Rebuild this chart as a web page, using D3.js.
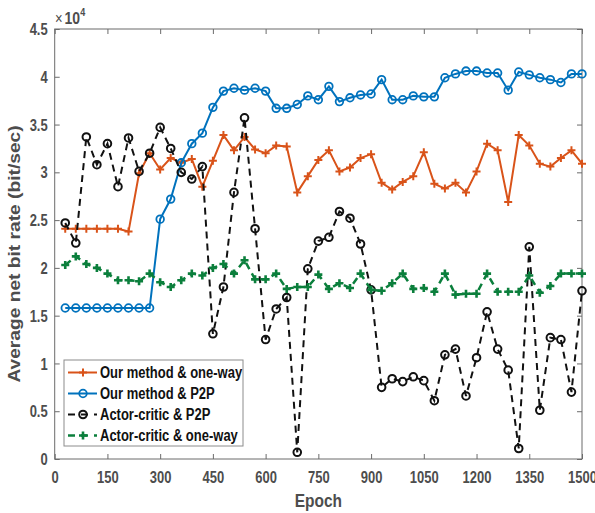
<!DOCTYPE html>
<html>
<head>
<meta charset="utf-8">
<script src="https://cdn.jsdelivr.net/npm/d3@7.9.0/dist/d3.min.js"></script>
<style>
  body { margin: 0; background: #fff; }
  svg { display: block; font-family: "Liberation Sans", Arial, sans-serif; }
</style>
</head>
<body>
<svg id="chart"></svg>
<script>
// epochs: one sample every 30 epochs
const epochs = d3.range(30, 1501, 30);

// values in units of 1e4 bit/sec
const ourOneWay = [2.41, 2.41, 2.41, 2.41, 2.41, 2.41, 2.38, 2.99, 3.20, 3.03,
  3.15, 3.10, 3.14, 2.85, 3.12, 3.39, 3.23, 3.37, 3.24, 3.20,
  3.28, 3.27, 2.79, 2.96, 3.13, 3.23, 3.01, 3.05, 3.15, 3.19,
  2.89, 2.82, 2.90, 2.96, 3.21, 2.88, 2.83, 2.89, 2.79, 3.01,
  3.30, 3.23, 2.69, 3.39, 3.28, 3.09, 3.06, 3.15, 3.23, 3.09];

const ourP2P = [1.58, 1.58, 1.58, 1.58, 1.58, 1.58, 1.58, 1.58, 1.58, 2.51,
  2.72, 3.10, 3.30, 3.41, 3.68, 3.85, 3.88, 3.86, 3.88, 3.85,
  3.67, 3.67, 3.71, 3.80, 3.76, 3.90, 3.74, 3.78, 3.81, 3.82,
  3.97, 3.76, 3.76, 3.80, 3.79, 3.79, 3.99, 4.03, 4.06, 4.06,
  4.04, 4.04, 3.86, 4.05, 4.02, 3.99, 3.97, 3.94, 4.03, 4.03];

const acP2P = [2.47, 2.26, 3.37, 3.08, 3.30, 2.85, 3.36, 3.01, 3.20, 3.47,
  3.25, 3.00, 2.93, 3.06, 1.31, 1.80, 2.79, 3.57, 2.41, 1.25,
  1.57, 1.69, 0.07, 1.99, 2.28, 2.32, 2.59, 2.52, 2.25, 1.77,
  0.75, 0.84, 0.81, 0.86, 0.82, 0.61, 1.09, 1.15, 0.66, 1.06,
  1.54, 1.15, 0.93, 0.11, 2.22, 0.51, 1.27, 1.25, 0.70, 1.76];

const acOneWay = [2.03, 2.12, 2.04, 2.00, 1.94, 1.87, 1.87, 1.86, 1.94, 1.85,
  1.80, 1.87, 1.94, 1.92, 2.00, 2.04, 1.94, 2.08, 1.88, 1.88,
  1.94, 1.78, 1.80, 1.80, 1.93, 1.78, 1.84, 1.79, 1.94, 1.77,
  1.76, 1.84, 1.94, 1.78, 1.79, 1.75, 1.94, 1.72, 1.73, 1.73,
  1.94, 1.75, 1.75, 1.75, 1.92, 1.74, 1.81, 1.94, 1.94, 1.94];

const seriesNames = ['Our method & one-way', 'Our method & P2P', 'Actor-critic & P2P', 'Actor-critic & one-way'];
const xTicks = d3.range(0, 1501, 150);
const yTicks = d3.range(0, 4.51, 0.5);

const width = 595, height = 513;
const margin = { top: 29, right: 13, bottom: 54, left: 54.7 };
const SY = 1.2; // the original figure is stretched vertically

const svg = d3.select('#chart').attr('width', width).attr('height', height);

const x = d3.scaleLinear().domain([0, 1500]).range([margin.left, width - margin.right]);
const y = d3.scaleLinear().domain([0, 4.5]).range([height - margin.bottom, margin.top]);

const axisColor = '#6b6b6b';
const labelColor = '#4d4d4d';

// frame
svg.append('rect')
  .attr('x', x(0)).attr('y', y(4.5))
  .attr('width', x(1500) - x(0)).attr('height', y(0) - y(4.5))
  .attr('fill', '#fff').attr('stroke', axisColor).attr('stroke-width', 1);

function styleAxis(g) {
  g.select('.domain').remove();
  g.selectAll('.tick line').attr('stroke', axisColor);
  g.selectAll('.tick text')
    .attr('fill', labelColor)
    .attr('font-size', 13)
    .attr('font-weight', 'bold');
}

// bottom axis
svg.append('g')
  .attr('transform', `translate(0,${y(0)})`)
  .call(d3.axisBottom(x).tickValues(xTicks).tickSizeInner(-5).tickSizeOuter(0).tickPadding(10.8)
    .tickFormat(d3.format('d')))
  .call(styleAxis)
  .call(g => g.selectAll('.tick text').attr('transform', `scale(1,${SY})`));

// left axis
svg.append('g')
  .attr('transform', `translate(${x(0)},0)`)
  .call(d3.axisLeft(y).tickValues(yTicks).tickSizeInner(-5).tickSizeOuter(0).tickPadding(7)
    .tickFormat(d => d3.format('~g')(+d.toFixed(1))))
  .call(styleAxis)
  .call(g => g.selectAll('.tick text').attr('dy', '0.36em').attr('transform', `scale(1,${SY})`));

// top and right ticks (no labels)
svg.append('g')
  .attr('transform', `translate(0,${y(4.5)})`)
  .call(d3.axisTop(x).tickValues(xTicks).tickSizeInner(-5).tickSizeOuter(0).tickFormat(''))
  .call(styleAxis);
svg.append('g')
  .attr('transform', `translate(${x(1500)},0)`)
  .call(d3.axisRight(y).tickValues(yTicks).tickSizeInner(-5).tickSizeOuter(0).tickFormat(''))
  .call(styleAxis);

// x10^4 exponent label
const expo = svg.append('text')
  .attr('transform', `translate(55,24) scale(1,${SY})`)
  .attr('fill', labelColor);
expo.append('tspan').attr('font-size', 13).attr('font-weight', 'normal').text('\u00d7');
expo.append('tspan').attr('font-size', 14).attr('font-weight', 'bold').attr('dx', 2).text('10');
expo.append('tspan').attr('font-size', 9).attr('font-weight', 'bold').attr('dy', -6.5).text('4');

// axis titles
svg.append('text')
  .attr('transform', `translate(${(x(0) + x(1500)) / 2},506.5) scale(1,${SY})`)
  .attr('text-anchor', 'middle')
  .attr('fill', labelColor)
  .attr('font-size', 15.5).attr('font-weight', 'bold')
  .text('Epoch');

svg.append('text')
  .attr('transform', `translate(20,254) rotate(-90) scale(${SY},1)`)
  .attr('text-anchor', 'middle')
  .attr('fill', labelColor)
  .attr('font-size', 16).attr('font-weight', 'bold')
  .text('Average net bit rate (bit/sec)');

// series
const plus = 'M-4,0H4M0,-4V4';
const styles = [
  { values: ourOneWay, color: '#D95319', width: 2, dash: null, marker: 'plus', mw: 2 },
  { values: ourP2P, color: '#0072BD', width: 2, dash: null, marker: 'circle', mw: 1.8 },
  { values: acP2P, color: '#111111', width: 2, dash: '7,5', marker: 'circle', mw: 2 },
  { values: acOneWay, color: '#0B7F3C', width: 2.5, dash: '7,5', marker: 'plus', mw: 2.6 }
];

const line = d3.line().x(d => x(d[0])).y(d => y(d[1]));

function drawMarker(g, s, px, py) {
  if (s.marker === 'plus') {
    g.append('path')
      .attr('d', plus)
      .attr('transform', `translate(${px},${py})`)
      .attr('stroke', s.color).attr('stroke-width', s.mw).attr('fill', 'none');
  } else {
    g.append('circle')
      .attr('cx', px).attr('cy', py).attr('r', 3.8)
      .attr('stroke', s.color).attr('stroke-width', s.mw).attr('fill', 'none');
  }
}

styles.forEach(s => {
  const pts = epochs.map((e, i) => [e, s.values[i]]);
  const g = svg.append('g');
  g.append('path')
    .datum(pts)
    .attr('fill', 'none')
    .attr('stroke', s.color)
    .attr('stroke-width', s.width)
    .attr('stroke-dasharray', s.dash)
    .attr('d', line);
  pts.forEach(p => drawMarker(g, s, x(p[0]), y(p[1])));
});

// legend
const legend = svg.append('g');
legend.append('rect')
  .attr('x', 64).attr('y', 360).attr('width', 179).attr('height', 86)
  .attr('fill', '#fff').attr('stroke', '#8c8c8c').attr('stroke-width', 1);

styles.forEach((s, i) => {
  const cy = 372.5 + i * 21;
  legend.append('line')
    .attr('x1', 68).attr('x2', 97).attr('y1', cy).attr('y2', cy)
    .attr('stroke', s.color).attr('stroke-width', s.width)
    .attr('stroke-dasharray', s.dash ? '7,6' : null);
  drawMarker(legend, s, 83, cy);
  legend.append('text')
    .attr('transform', `translate(100,${cy + 5.6}) scale(1,${SY})`)
    .attr('font-size', 13).attr('font-weight', 'bold')
    .attr('fill', '#111')
    .text(seriesNames[i]);
});
</script>
</body>
</html>
